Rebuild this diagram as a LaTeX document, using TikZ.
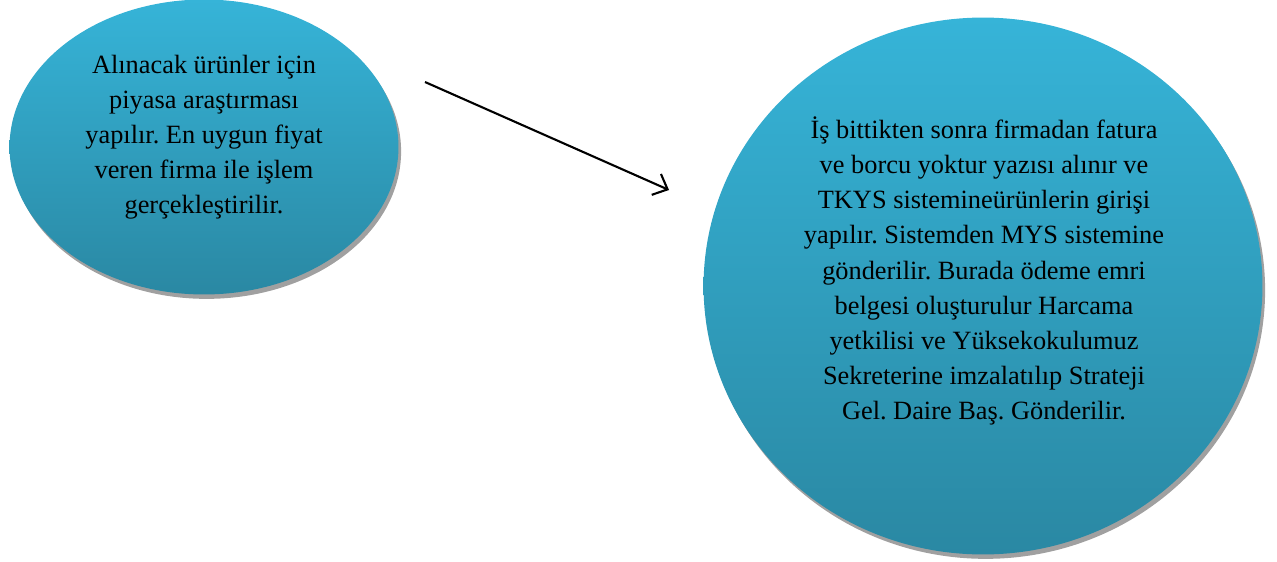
\documentclass[tikz,border=0pt]{standalone}
\usepackage{fontspec}
\setmainfont{Liberation Serif}
\usetikzlibrary{arrows.meta,shadows,shapes.geometric,calc}
\definecolor{c36b4d8}{RGB}{54,180,216}
\definecolor{c2a88a3}{RGB}{42,136,163}
\definecolor{ca0a0a0}{RGB}{160,160,160}
\tikzset{every path/.style={line width=1.2pt,color=black}}
\tikzset{bubble/.style={ellipse,draw=none,shading=axis,top color=c36b4d8,bottom color=c2a88a3,
drop shadow={fill=ca0a0a0,opacity=1,shadow xshift=1.5pt,shadow yshift=-2.5pt}}}
\frenchspacing

\begin{document}
\begin{tikzpicture}[x=0.02cm,y=-0.02cm]
\useasboundingbox (0,0) rectangle (1277,561);
\begin{scope}[every node/.style={bubble}]
\node[minimum width=7.78cm,minimum height=5.9cm] (buy) at (204,147) {};
\node[minimum width=11.18cm,minimum height=10.74cm] (pay) at (983,286) {};
\end{scope}

\begin{scope}[every node/.style={align=center,inner sep=0pt,font=\fontsize{15}{20}\selectfont}]
\node (buytext) at (204,137) {Alınacak ürünler için\\piyasa araştırması\\yapılır. En uygun fiyat\\veren firma ile işlem\\gerçekleştirilir.};
\node (paytext) at (984,271) {İş bittikten sonra firmadan fatura\\ve borcu yoktur yazısı alınır ve\\TKYS sistemineürünlerin girişi\\yapılır. Sistemden MYS sistemine\\gönderilir. Burada ödeme emri\\belgesi oluşturulur Harcama\\yetkilisi ve Yüksekokulumuz\\Sekreterine imzalatılıp Strateji\\Gel. Daire Baş. Gönderilir.};
\end{scope}

\coordinate (from) at (425,82);
\coordinate (to) at (669,190);
\draw[-{Straight Barb[length=7pt,width=13pt]}] (from) -- (to);

\end{tikzpicture}
\end{document}
